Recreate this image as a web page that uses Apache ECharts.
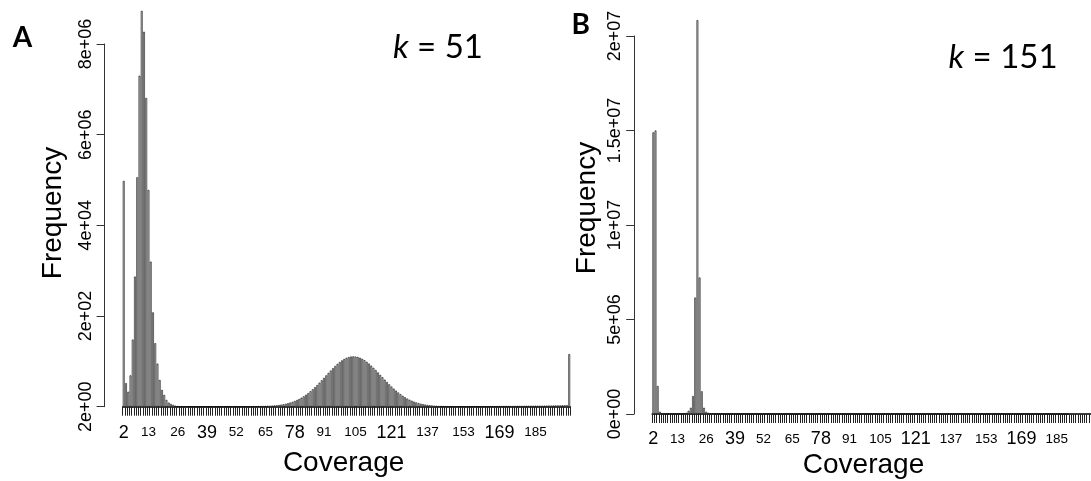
<!DOCTYPE html>
<html>
<head>
<meta charset="utf-8">
<script src="https://cdn.jsdelivr.net/npm/echarts@6/dist/echarts.min.js"></script>
<style>
  html, body { margin: 0; padding: 0; background: #fff; }
  #chart { width: 1091px; height: 481px; }
</style>
</head>
<body>
<div id="chart"></div>
<script>
// k-mer coverage bins (2 .. 200)
const coverage = [];
for (let c = 2; c <= 200; c++) coverage.push(String(c));

// tick labels printed under the bars
const coverageTicks = [2, 13, 26, 39, 52, 65, 78, 91, 105, 121, 137, 153, 169, 185];
const largeTicks = [2, 39, 78, 121, 169];

// frequency tick labels (values in millions on the axis)
const freqTicksA = ['2e+00', '2e+02', '4e+04', '6e+06', '8e+06'];
const freqTicksB = ['0e+00', '5e+06', '1e+07', '1.5e+07', '2e+07'];

// k = 51 histogram, frequency in millions, coverage 2..200
const freqA = [
  4.98, 0.52, 0.33, 0.69, 1.48, 2.87, 5.06, 7.30, 8.73, 8.27, 6.81, 4.78,
  3.20, 2.08, 1.40, 0.95, 0.59, 0.37, 0.26, 0.15, 0.09, 0.06, 0.04, 0.02,
  0.012, 0.008, 0.006, 0.005, 0.004, 0.004, 0.003, 0.003, 0.003, 0.003,
  0.003, 0.003, 0.003, 0.003, 0.003, 0.003, 0.003, 0.003, 0.003, 0.003,
  0.003, 0.003, 0.003, 0.004, 0.004, 0.004, 0.004, 0.005, 0.005, 0.005,
  0.006, 0.006, 0.007, 0.008, 0.009, 0.010, 0.011, 0.012, 0.014, 0.016,
  0.018, 0.021, 0.024, 0.028, 0.032, 0.038, 0.046, 0.054, 0.065, 0.077,
  0.091, 0.107, 0.126, 0.148, 0.171, 0.199, 0.229, 0.263, 0.300, 0.341,
  0.384, 0.430, 0.478, 0.530, 0.583, 0.636, 0.691, 0.745, 0.798, 0.849,
  0.898, 0.944, 0.985, 1.022, 1.053, 1.077, 1.095, 1.106, 1.110, 1.106,
  1.097, 1.080, 1.057, 1.027, 0.991, 0.951, 0.906, 0.858, 0.808, 0.756,
  0.703, 0.650, 0.597, 0.545, 0.494, 0.445, 0.399, 0.355, 0.314, 0.276,
  0.241, 0.209, 0.180, 0.155, 0.132, 0.112, 0.095, 0.080, 0.067, 0.056,
  0.047, 0.039, 0.032, 0.027, 0.022, 0.018, 0.015, 0.013, 0.011, 0.010,
  0.009, 0.008, 0.008, 0.007, 0.007, 0.007, 0.007, 0.007, 0.007, 0.007,
  0.007, 0.007, 0.008, 0.008, 0.008, 0.008, 0.009, 0.009, 0.009, 0.010,
  0.010, 0.010, 0.011, 0.011, 0.012, 0.012, 0.013, 0.013, 0.014, 0.014,
  0.015, 0.015, 0.016, 0.016, 0.017, 0.018, 0.018, 0.019, 0.020, 0.020,
  0.021, 0.022, 0.022, 0.023, 0.024, 0.025, 0.025, 0.026, 0.027, 0.028,
  0.029, 0.030, 0.031, 0.032,
  1.16
];

// k = 151 histogram, frequency in millions, coverage 2..200
const freqB = [
  14.90, 15.00, 1.48, 0.12, 0.030, 0.015, 0.010, 0.010, 0.010, 0.010,
  0.010, 0.010, 0.012, 0.015, 0.030, 0.060, 0.17, 0.33, 0.95, 6.16,
  20.84, 7.22, 1.20, 0.33, 0.12, 0.060, 0.030, 0.020, 0.015, 0.012,
  0.010, 0.010, 0.009, 0.009, 0.009, 0.008, 0.008, 0.008, 0.008, 0.007,
  0.007, 0.007, 0.007, 0.007, 0.006, 0.006, 0.006, 0.006, 0.006, 0.006,
  0.006, 0.005, 0.005, 0.005, 0.005, 0.005, 0.005, 0.005, 0.005, 0.005,
  0.005, 0.005, 0.005, 0.005, 0.005, 0.005, 0.005, 0.005, 0.005, 0.005,
  0.004, 0.004, 0.004, 0.004, 0.004, 0.004, 0.004, 0.004, 0.004, 0.004,
  0.004, 0.004, 0.004, 0.004, 0.004, 0.004, 0.004, 0.004, 0.004, 0.004,
  0.004, 0.004, 0.004, 0.004, 0.004, 0.004, 0.004, 0.004, 0.004, 0.004,
  0.004, 0.004, 0.004, 0.004, 0.004, 0.004, 0.004, 0.004, 0.004, 0.004,
  0.004, 0.004, 0.004, 0.004, 0.004, 0.004, 0.004, 0.004, 0.004, 0.004,
  0.004, 0.004, 0.004, 0.004, 0.004, 0.004, 0.004, 0.004, 0.004, 0.004,
  0.004, 0.004, 0.004, 0.004, 0.004, 0.004, 0.004, 0.004, 0.004, 0.004,
  0.004, 0.004, 0.004, 0.004, 0.004, 0.004, 0.004, 0.004, 0.004, 0.004,
  0.004, 0.004, 0.004, 0.004, 0.004, 0.004, 0.004, 0.004, 0.004, 0.004,
  0.004, 0.004, 0.004, 0.004, 0.004, 0.004, 0.004, 0.004, 0.004, 0.004,
  0.004, 0.004, 0.004, 0.004, 0.004, 0.004, 0.004, 0.004, 0.004, 0.004,
  0.004, 0.004, 0.004, 0.004, 0.004, 0.004, 0.004, 0.004, 0.004
];

const AXIS_FONT = 'Liberation Sans, Arial, sans-serif';
const NARROW_FONT = 'Liberation Sans Narrow, Liberation Sans, sans-serif';
const LABEL_FONT = 'Lato, sans-serif';

function xAxisFor(gridIndex, labelMargin) {
  return {
    type: 'category',
    gridIndex: gridIndex,
    data: coverage,
    boundaryGap: true,
    axisLine: { show: true, lineStyle: { color: '#000', width: 1.5 } },
    axisTick: { show: true, interval: 0, length: 9, lineStyle: { color: '#222', width: 1 } },
    axisLabel: {
      interval: (idx, val) => coverageTicks.includes(Number(val)),
      margin: labelMargin,
      color: '#000',
      formatter: v => largeTicks.includes(Number(v)) ? '{big|' + v + '}' : '{small|' + v + '}',
      rich: {
        big: { fontFamily: NARROW_FONT, fontSize: 18, lineHeight: 18, color: '#000' },
        small: { fontFamily: AXIS_FONT, fontSize: 13.5, lineHeight: 18, color: '#000' }
      }
    },
    splitLine: { show: false }
  };
}

function yAxisFor(gridIndex, max, step, ticks) {
  return {
    type: 'value',
    gridIndex: gridIndex,
    min: 0,
    max: max,
    interval: step,
    offset: 18,
    axisLine: { show: true, lineStyle: { color: '#333', width: 1 } },
    axisTick: { show: true, length: 8, lineStyle: { color: '#333', width: 1 } },
    axisLabel: {
      rotate: 90,
      margin: 10,
      fontFamily: AXIS_FONT,
      fontSize: 18,
      color: '#000',
      formatter: v => ticks[Math.round(v / step)]
    },
    splitLine: { show: false }
  };
}

const barStyle = {
  color: '#e4e4e4',
  borderColor: '#000',
  borderWidth: 0.6
};

function plainText(text, x, y, extra) {
  return Object.assign({
    type: 'text',
    x: x,
    y: y,
    style: {
      text: text,
      fontFamily: AXIS_FONT,
      fontSize: 28,
      fill: '#000',
      textAlign: 'center',
      textVerticalAlign: 'middle'
    }
  }, extra || {});
}

function panelLetter(text, x, y) {
  return {
    type: 'text', x: x, y: y,
    style: {
      text: text, fontFamily: LABEL_FONT, fontWeight: 'bold', fontSize: 28,
      fill: '#000', textAlign: 'center', textVerticalAlign: 'middle'
    }
  };
}

function kLabel(value, x, y) {
  return {
    type: 'text', x: x, y: y,
    style: {
      text: '{k|k} = ' + value,
      fontFamily: LABEL_FONT, fontSize: 33, fill: '#000',
      textAlign: 'center', textVerticalAlign: 'middle',
      rich: { k: { fontStyle: 'italic', fontFamily: LABEL_FONT, fontSize: 33 } }
    }
  };
}

const chart = echarts.init(document.getElementById('chart'), null, { renderer: 'canvas' });

chart.setOption({
  animation: false,
  backgroundColor: '#fff',
  grid: [
    { left: 122.6, top: 44, width: 447.75, height: 362.7, containLabel: false },
    { left: 652.2, top: 36, width: 449.7, height: 378, containLabel: false }
  ],
  xAxis: [xAxisFor(0, 17), xAxisFor(1, 16)],
  yAxis: [yAxisFor(0, 8, 2, freqTicksA), yAxisFor(1, 20, 5, freqTicksB)],
  series: [
    {
      type: 'bar', xAxisIndex: 0, yAxisIndex: 0, data: freqA,
      barCategoryGap: '20%', clip: false, itemStyle: barStyle
    },
    {
      type: 'bar', xAxisIndex: 1, yAxisIndex: 1, data: freqB,
      barCategoryGap: '20%', clip: false, itemStyle: barStyle
    }
  ],
  graphic: [
    panelLetter('A', 22.5, 38),
    panelLetter('B', 580.7, 25),
    plainText('Frequency', 53, 213, { rotation: Math.PI / 2 }),
    plainText('Frequency', 587, 208, { rotation: Math.PI / 2 }),
    plainText('Coverage', 343.6, 463.5),
    plainText('Coverage', 863.5, 465.5),
    kLabel('51', 438, 47),
    kLabel('151', 1003, 57)
  ]
});
</script>
</body>
</html>
